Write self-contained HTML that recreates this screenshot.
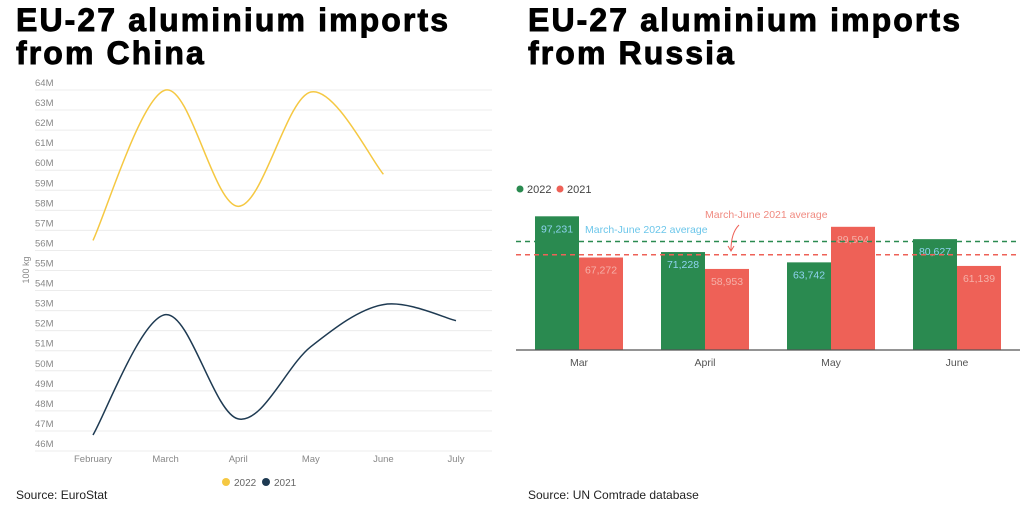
<!DOCTYPE html>
<html><head><meta charset="utf-8"><style>
body{margin:0;background:#fff;width:1024px;height:512px;overflow:hidden;font-family:"Liberation Sans",sans-serif;}
.t{position:absolute;font-weight:bold;font-size:32px;line-height:33px;color:#000;letter-spacing:2.1px;-webkit-text-stroke:0.9px #000}
.s{position:absolute;font-size:12px;color:#222}
</style></head><body>
<div class="t" style="left:16px;top:4px">EU-27 aluminium imports<br>from China</div>
<div class="t" style="left:528px;top:4px">EU-27 aluminium imports<br>from Russia</div>
<div class="s" style="left:16px;top:488px">Source: EuroStat</div>
<div class="s" style="left:528px;top:488px">Source: UN Comtrade database</div>
<svg width="1024" height="512" style="position:absolute;left:0;top:0">
<g id="left"></g><g id="right"></g>
</svg>
<script>
const lMonths=["February","March","April","May","June","July"];
const l2022=[56.5,64.0,58.2,63.9,59.8];
const l2021=[46.8,52.8,47.6,51.2,53.3,52.5];
const lTicks=[46,47,48,49,50,51,52,53,54,55,56,57,58,59,60,61,62,63,64];
const rCats=["Mar","April","May","June"];
const r2022=[97231,71228,63742,80627];
const r2021=[67272,58953,89594,61139];
const NS="http://www.w3.org/2000/svg";
function mk(p,tag,a,txt){const e=document.createElementNS(NS,tag);for(const k in a)e.setAttribute(k,a[k]);if(txt!=null)e.textContent=txt;p.appendChild(e);return e;}
const L=document.getElementById('left');
const ly=v=>451-(v-46)*(451-90)/18;
const lx=i=>93+i*72.6;
lTicks.forEach(t=>{
 const g=mk(L,'line',{x1:35,x2:492,y1:ly(t),y2:ly(t),stroke:'#ececec'});
 
 const tx=mk(L,'text',{x:35,y:ly(t)-4,'font-size':9.5,fill:'#888'},t+'M');
 
});
const yt=mk(L,'text',{x:0,y:0,'font-size':9,fill:'#888',transform:'translate(29,270) rotate(-90)','text-anchor':'middle'},'100 kg');

lMonths.forEach((m,i)=>{
 const tx=mk(L,'text',{x:lx(i),y:462,'font-size':9.5,fill:'#888','text-anchor':'middle'},m);
 
});
function smooth(pts){let d='M'+pts[0][0]+','+pts[0][1];for(let i=0;i<pts.length-1;i++){const p0=pts[i-1]||pts[i],p1=pts[i],p2=pts[i+1],p3=pts[i+2]||p2;const c1x=p1[0]+(p2[0]-p0[0])/6,c1y=p1[1]+(p2[1]-p0[1])/6,c2x=p2[0]-(p3[0]-p1[0])/6,c2y=p2[1]-(p3[1]-p1[1])/6;d+=` C${c1x},${c1y} ${c2x},${c2y} ${p2[0]},${p2[1]}`;}return d;}
const p1=mk(L,'path',{d:smooth(l2022.map((v,i)=>[lx(i),ly(v)])),fill:'none',stroke:'#f5c842','stroke-width':1.5});

const p2=mk(L,'path',{d:smooth(l2021.map((v,i)=>[lx(i),ly(v)])),fill:'none',stroke:'#1e3a52','stroke-width':1.5});

[['#f5c842','2022',226],['#1e3a52','2021',266]].forEach(([c,t,x])=>{
 const d=mk(L,'circle',{cx:x,cy:482,r:4,fill:c});
 const tx=mk(L,'text',{x:x+8,y:486,'font-size':10,fill:'#666'},t);
});
const R=document.getElementById('right');
const base=350,sc=0.001375;
const ry=v=>base-v*sc;
const gx=i=>535+i*126;
[['#2a8a50','2022',520],['#ee6157','2021',560]].forEach(([c,t,x])=>{
 const d=mk(R,'circle',{cx:x,cy:189,r:3.5,fill:c});
 const tx=mk(R,'text',{x:x+7,y:193,'font-size':11,fill:'#444'},t);
});
rCats.forEach((c,i)=>{
 const b1=mk(R,'rect',{x:gx(i),y:ry(r2022[i]),width:44,height:r2022[i]*sc,fill:'#2a8a50'});
 
 const b2=mk(R,'rect',{x:gx(i)+44,y:ry(r2021[i]),width:44,height:r2021[i]*sc,fill:'#ee6157'});
 
 const v1=mk(R,'text',{x:gx(i)+22,y:ry(r2022[i])+16,'font-size':10.5,fill:'#8fd3f0','text-anchor':'middle'},r2022[i].toLocaleString('en-US'));
 
 const v2=mk(R,'text',{x:gx(i)+66,y:ry(r2021[i])+16,'font-size':10.5,fill:'#f5b0a8','text-anchor':'middle'},r2021[i].toLocaleString('en-US'));
 
 const xl=mk(R,'text',{x:gx(i)+44,y:366,'font-size':10.5,fill:'#555','text-anchor':'middle'},c);
 
});
const ax=mk(R,'line',{x1:516,x2:1020,y1:base,y2:base,stroke:'#555','stroke-width':1.2});

const a22=r2022.reduce((a,b)=>a+b)/r2022.length,a21=r2021.reduce((a,b)=>a+b)/r2021.length;
const l22=mk(R,'line',{x1:516,x2:1020,y1:ry(a22)-1,y2:ry(a22)-1,stroke:'#2a8a50','stroke-width':1.5,'stroke-dasharray':'5,4'});

const l21=mk(R,'line',{x1:516,x2:1020,y1:ry(a21),y2:ry(a21),stroke:'#ee6157','stroke-width':1.5,'stroke-dasharray':'5,4'});

const t22=mk(R,'text',{x:585,y:233,'font-size':10.5,fill:'#6cc6ea'},'March-June 2022 average');

const t21=mk(R,'text',{x:705,y:218,'font-size':10.5,fill:'#f08a80'},'March-June 2021 average');

const ar=mk(R,'path',{d:'M739,225 Q731,233 731,250 M728,246 L731,251 L734,246',fill:'none',stroke:'#ee6157','stroke-width':1});

</script>
</body></html>
